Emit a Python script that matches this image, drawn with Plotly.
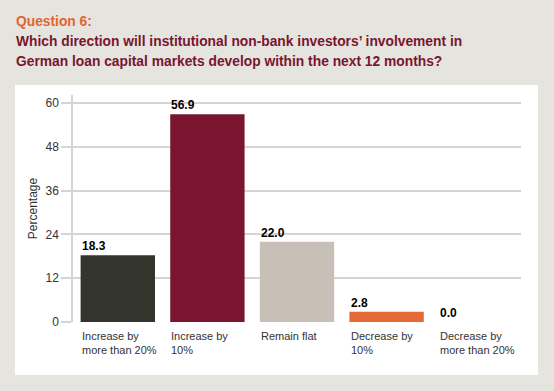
import plotly.graph_objects as go

categories = ["Increase by<br>more than 20%", "Increase by<br>10%", "Remain flat",
              "Decrease by<br>10%", "Decrease by<br>more than 20%"]
values = [18.3, 56.9, 22.0, 2.8, 0.0]
bar_colors = ["#33342b", "#7a1530", "#c8c0b6", "#e56a35", "#c8c0b6"]
y_ticks = [0, 12, 24, 36, 48, 60]
title_lines = ["Question 6:",
               "Which direction will institutional non-bank investors\u2019 involvement in",
               "German loan capital markets develop within the next 12 months?"]
title_colors = ["#e0662f", "#7a1530", "#7a1530"]

W, H = 554, 391
L, R, T, B = 73, 33, 95, 69
FONT = "Liberation Sans, Arial, sans-serif"
GRID = "#d8d3ce"
BG = "#e5e4df"
pw = W - L - R
ph = H - T - B


def px_x(p):
    return (p - L) / pw


def px_y(p):
    return ((H - B) - p) / ph


fig = go.Figure()
fig.add_trace(go.Bar(
    x=list(range(len(categories))), y=values,
    marker=dict(color=bar_colors, line=dict(width=0)),
    hoverinfo="skip",
))

for i, v in enumerate(values):
    fig.add_annotation(x=i, y=v, xref="x", yref="y", text=f"<b>{v:.1f}</b>",
                       showarrow=False, xanchor="left", yanchor="bottom",
                       xshift=-38, yshift=0,
                       font=dict(family=FONT, size=12, color="#000"))
for i, c in enumerate(categories):
    fig.add_annotation(x=i, y=0, xref="x", yref="y", text=c, align="left",
                       showarrow=False, xanchor="left", yanchor="top",
                       xshift=-38, yshift=-6,
                       font=dict(family=FONT, size=11, color="#333"))

for k, (t, col) in enumerate(zip(title_lines, title_colors)):
    fig.add_annotation(x=px_x(14), y=px_y(22 + 20 * k), xref="paper", yref="paper",
                       text=f"<b>{t}</b>", showarrow=False, xanchor="left",
                       yanchor="middle",
                       font=dict(family=FONT, size=13.8, color=col))

frame = [(0, W, 0, 85), (0, W, 375, H), (0, 15, 0, H), (538, W, 0, H)]
for x0, x1, y0, y1 in frame:
    fig.add_shape(type="rect", xref="paper", yref="paper",
                  x0=px_x(x0), x1=px_x(x1), y0=px_y(y1), y1=px_y(y0),
                  fillcolor=BG, line=dict(width=0), layer="below")

fig.update_layout(
    width=W, height=H,
    margin=dict(l=L, r=R, t=T, b=B, autoexpand=False),
    paper_bgcolor="white", plot_bgcolor="rgba(0,0,0,0)",
    bargap=0.17,
    showlegend=False,
    xaxis=dict(showticklabels=False, showgrid=False, zeroline=False,
               range=[-0.5, len(categories) - 0.5], fixedrange=True,
               automargin=False),
    yaxis=dict(range=[0, 62.2], tickvals=y_ticks, showgrid=True, gridcolor=GRID,
               gridwidth=1.5, zeroline=False, showline=True, linecolor=GRID,
               linewidth=1.5, ticks="outside", ticklen=10, tickcolor=GRID,
               tickwidth=1.5, automargin=False,
               tickfont=dict(family=FONT, size=12, color="#333"),
               title=dict(text="Percentage", standoff=5,
                          font=dict(family=FONT, size=12, color="#333"))),
)

fig.write_html("out.html", config={"displayModeBar": False},
               post_script="document.body.style.margin='0';document.body.style.overflow='hidden';")
